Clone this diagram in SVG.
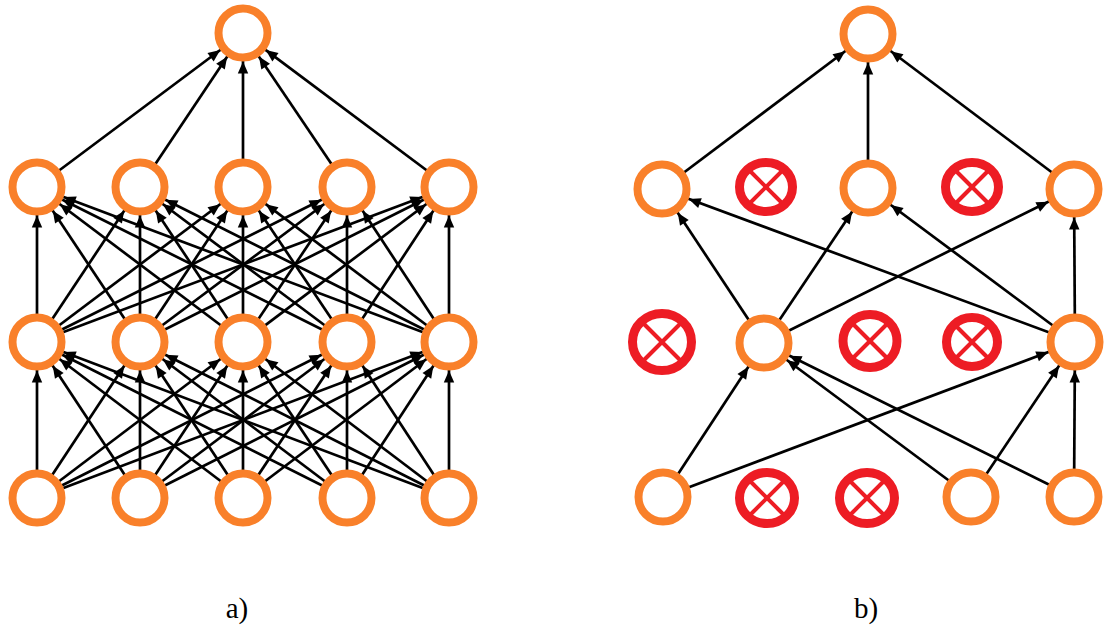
<svg xmlns="http://www.w3.org/2000/svg" width="1110" height="629" viewBox="0 0 1110 629">
<style>
.e{stroke:#000;stroke-width:2.7;fill:none;marker-end:url(#ah)}
.n{fill:#fff;stroke:#F9802A;stroke-width:8}
.x{fill:#fff;stroke:#ED1C24;stroke-width:9}
.xl{stroke:#ED1C24;stroke-width:4}
.lbl{font-family:"Liberation Serif","Times New Roman",serif;font-size:29px;fill:#000;text-anchor:middle}
</style>
<defs>
<marker id="ah" markerUnits="userSpaceOnUse" viewBox="-14 -7 46 14" markerWidth="46" markerHeight="14" refX="28.5" refY="0" orient="auto">
<path d="M -12 -5.2 L 0 0 L -12 5.2 z" fill="#000"/>
</marker>
</defs>
<rect width="1110" height="629" fill="#fff"/>
<g id="connectors">
<line class="e" x1="37" y1="498" x2="37" y2="342"/>
<line class="e" x1="37" y1="498" x2="140" y2="342"/>
<line class="e" x1="37" y1="498" x2="243" y2="342"/>
<line class="e" x1="37" y1="498" x2="347" y2="342"/>
<line class="e" x1="37" y1="498" x2="449" y2="342"/>
<line class="e" x1="140" y1="498" x2="37" y2="342"/>
<line class="e" x1="140" y1="498" x2="140" y2="342"/>
<line class="e" x1="140" y1="498" x2="243" y2="342"/>
<line class="e" x1="140" y1="498" x2="347" y2="342"/>
<line class="e" x1="140" y1="498" x2="449" y2="342"/>
<line class="e" x1="243" y1="498" x2="37" y2="342"/>
<line class="e" x1="243" y1="498" x2="140" y2="342"/>
<line class="e" x1="243" y1="498" x2="243" y2="342"/>
<line class="e" x1="243" y1="498" x2="347" y2="342"/>
<line class="e" x1="243" y1="498" x2="449" y2="342"/>
<line class="e" x1="347" y1="498" x2="37" y2="342"/>
<line class="e" x1="347" y1="498" x2="140" y2="342"/>
<line class="e" x1="347" y1="498" x2="243" y2="342"/>
<line class="e" x1="347" y1="498" x2="347" y2="342"/>
<line class="e" x1="347" y1="498" x2="449" y2="342"/>
<line class="e" x1="449" y1="498" x2="37" y2="342"/>
<line class="e" x1="449" y1="498" x2="140" y2="342"/>
<line class="e" x1="449" y1="498" x2="243" y2="342"/>
<line class="e" x1="449" y1="498" x2="347" y2="342"/>
<line class="e" x1="449" y1="498" x2="449" y2="342"/>
<line class="e" x1="37" y1="342" x2="37" y2="187"/>
<line class="e" x1="37" y1="342" x2="140" y2="187"/>
<line class="e" x1="37" y1="342" x2="243" y2="187"/>
<line class="e" x1="37" y1="342" x2="347" y2="187"/>
<line class="e" x1="37" y1="342" x2="449" y2="187"/>
<line class="e" x1="140" y1="342" x2="37" y2="187"/>
<line class="e" x1="140" y1="342" x2="140" y2="187"/>
<line class="e" x1="140" y1="342" x2="243" y2="187"/>
<line class="e" x1="140" y1="342" x2="347" y2="187"/>
<line class="e" x1="140" y1="342" x2="449" y2="187"/>
<line class="e" x1="243" y1="342" x2="37" y2="187"/>
<line class="e" x1="243" y1="342" x2="140" y2="187"/>
<line class="e" x1="243" y1="342" x2="243" y2="187"/>
<line class="e" x1="243" y1="342" x2="347" y2="187"/>
<line class="e" x1="243" y1="342" x2="449" y2="187"/>
<line class="e" x1="347" y1="342" x2="37" y2="187"/>
<line class="e" x1="347" y1="342" x2="140" y2="187"/>
<line class="e" x1="347" y1="342" x2="243" y2="187"/>
<line class="e" x1="347" y1="342" x2="347" y2="187"/>
<line class="e" x1="347" y1="342" x2="449" y2="187"/>
<line class="e" x1="449" y1="342" x2="37" y2="187"/>
<line class="e" x1="449" y1="342" x2="140" y2="187"/>
<line class="e" x1="449" y1="342" x2="243" y2="187"/>
<line class="e" x1="449" y1="342" x2="347" y2="187"/>
<line class="e" x1="449" y1="342" x2="449" y2="187"/>
<line class="e" x1="37" y1="187" x2="243" y2="33"/>
<line class="e" x1="140" y1="187" x2="243" y2="33"/>
<line class="e" x1="243" y1="187" x2="243" y2="33"/>
<line class="e" x1="347" y1="187" x2="243" y2="33"/>
<line class="e" x1="449" y1="187" x2="243" y2="33"/>
<line class="e" x1="662" y1="189" x2="868" y2="34"/>
<line class="e" x1="868" y1="188" x2="868" y2="34"/>
<line class="e" x1="1074" y1="189" x2="868" y2="34"/>
<line class="e" x1="764" y1="343" x2="662" y2="189"/>
<line class="e" x1="1075" y1="342" x2="662" y2="189"/>
<line class="e" x1="764" y1="343" x2="868" y2="188"/>
<line class="e" x1="1075" y1="342" x2="868" y2="188"/>
<line class="e" x1="764" y1="343" x2="1074" y2="189"/>
<line class="e" x1="1075" y1="342" x2="1074" y2="189"/>
<line class="e" x1="663" y1="497" x2="764" y2="343"/>
<line class="e" x1="971" y1="497" x2="764" y2="343"/>
<line class="e" x1="1074" y1="497" x2="764" y2="343"/>
<line class="e" x1="663" y1="497" x2="1075" y2="342"/>
<line class="e" x1="971" y1="497" x2="1075" y2="342"/>
<line class="e" x1="1074" y1="497" x2="1075" y2="342"/>
</g>
<g id="a-top"><circle class="n" cx="243" cy="33" r="24.5"/></g>
<g id="a-l2-1"><circle class="n" cx="37" cy="187" r="24.5"/></g>
<g id="a-l2-2"><circle class="n" cx="140" cy="187" r="24.5"/></g>
<g id="a-l2-3"><circle class="n" cx="243" cy="187" r="24.5"/></g>
<g id="a-l2-4"><circle class="n" cx="347" cy="187" r="24.5"/></g>
<g id="a-l2-5"><circle class="n" cx="449" cy="187" r="24.5"/></g>
<g id="a-l3-1"><circle class="n" cx="37" cy="342" r="24.5"/></g>
<g id="a-l3-2"><circle class="n" cx="140" cy="342" r="24.5"/></g>
<g id="a-l3-3"><circle class="n" cx="243" cy="342" r="24.5"/></g>
<g id="a-l3-4"><circle class="n" cx="347" cy="342" r="24.5"/></g>
<g id="a-l3-5"><circle class="n" cx="449" cy="342" r="24.5"/></g>
<g id="a-l4-1"><circle class="n" cx="37" cy="498" r="24.5"/></g>
<g id="a-l4-2"><circle class="n" cx="140" cy="498" r="24.5"/></g>
<g id="a-l4-3"><circle class="n" cx="243" cy="498" r="24.5"/></g>
<g id="a-l4-4"><circle class="n" cx="347" cy="498" r="24.5"/></g>
<g id="a-l4-5"><circle class="n" cx="449" cy="498" r="24.5"/></g>
<g id="b-top"><circle class="n" cx="868" cy="34" r="24.5"/></g>
<g id="b-l2-1"><circle class="n" cx="662" cy="189" r="24.5"/></g>
<g id="b-l2-2"><ellipse class="x" cx="766" cy="187" rx="26.5" ry="24.5"/><line class="xl" x1="750" y1="171" x2="782" y2="203"/><line class="xl" x1="782" y1="171" x2="750" y2="203"/></g>
<g id="b-l2-3"><circle class="n" cx="868" cy="188" r="24.5"/></g>
<g id="b-l2-4"><ellipse class="x" cx="972" cy="187" rx="26.5" ry="24.5"/><line class="xl" x1="956" y1="171" x2="988" y2="203"/><line class="xl" x1="988" y1="171" x2="956" y2="203"/></g>
<g id="b-l2-5"><circle class="n" cx="1074" cy="189" r="24.5"/></g>
<g id="b-l3-1"><ellipse class="x" cx="662" cy="342" rx="29.5" ry="28.5"/><line class="xl" x1="644" y1="324" x2="680" y2="360"/><line class="xl" x1="680" y1="324" x2="644" y2="360"/></g>
<g id="b-l3-2"><circle class="n" cx="764" cy="343" r="24.5"/></g>
<g id="b-l3-3"><ellipse class="x" cx="870" cy="341" rx="27" ry="26.5"/><line class="xl" x1="853" y1="324" x2="887" y2="358"/><line class="xl" x1="887" y1="324" x2="853" y2="358"/></g>
<g id="b-l3-4"><ellipse class="x" cx="972" cy="342" rx="25.5" ry="24.5"/><line class="xl" x1="956" y1="326" x2="988" y2="358"/><line class="xl" x1="988" y1="326" x2="956" y2="358"/></g>
<g id="b-l3-5"><circle class="n" cx="1075" cy="342" r="24.5"/></g>
<g id="b-l4-1"><circle class="n" cx="663" cy="497" r="24.5"/></g>
<g id="b-l4-2"><ellipse class="x" cx="767" cy="498" rx="27.5" ry="25.5"/><line class="xl" x1="750" y1="481" x2="784" y2="515"/><line class="xl" x1="784" y1="481" x2="750" y2="515"/></g>
<g id="b-l4-3"><ellipse class="x" cx="867" cy="498" rx="27.5" ry="25.5"/><line class="xl" x1="850" y1="481" x2="884" y2="515"/><line class="xl" x1="884" y1="481" x2="850" y2="515"/></g>
<g id="b-l4-4"><circle class="n" cx="971" cy="497" r="24.5"/></g>
<g id="b-l4-5"><circle class="n" cx="1074" cy="497" r="24.5"/></g>
<text class="lbl" x="237" y="618">a)</text>
<text class="lbl" x="866" y="618">b)</text>
</svg>
